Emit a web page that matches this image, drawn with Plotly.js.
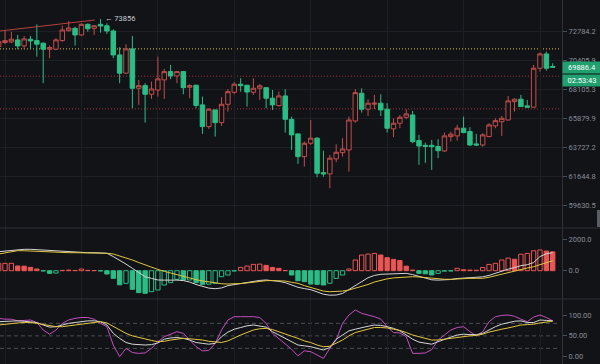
<!DOCTYPE html>
<html><head><meta charset="utf-8">
<script src="https://cdn.plot.ly/plotly-3.0.1.min.js"></script>
<style>html,body{margin:0;padding:0;background:#121317;overflow:hidden}#chart{width:600px;height:364px}</style>
</head><body><div id="chart"></div>
<script>
// ---- data ----
const openP  = [71554,71882,71939,72103,71611,72161,72046,71833,71341,71341,72046,72867,73068,72513,73401,73068,73401,73284,72842,70873,69407,71365,68217,68423,67752,68082,68876,69534,69193,69534,68296,68455,66932,65286,66548,65583,66978,67906,68534,68455,67906,68217,68265,67446,66878,67622,65835,64745,63081,64054,64426,61932,61839,62916,63368,63562,65709,67829,66602,66985,67062,66602,65116,65539,65987,66164,64247,63905,63905,63816,63490,64544,64596,65168,64915,64002,63928,64544,65338,65657,65784,67185,67369,66855,66755,69803,70955,69946];
const highP  = [72103,72867,72784,72513,72431,72431,73401,71898,71636,72243,73284,73676,73201,73485,73485,73343,73856,73485,72984,71505,71751,72431,68876,68614,68741,70734,69748,70065,69589,69589,68534,68500,67568,66678,66560,67522,68136,68692,69010,68470,69010,68558,68280,68082,67952,68136,66035,64760,64174,65784,64499,63512,63203,63979,64426,66035,68136,68213,67369,67699,67752,67062,65911,66164,66602,66471,64670,64098,64298,64350,64841,64915,65412,66035,65242,64745,64797,65539,65911,66088,67622,67430,67699,67315,70065,71062,71144,70200];
const lowP   = [71423,71775,71833,71341,71341,71341,70734,68614,70603,71283,71964,72800,71636,72431,72784,72513,72702,72595,70603,68614,69351,66678,66932,65583,67392,67568,67392,68931,68614,67752,67446,66678,64745,65116,64544,65338,66419,67752,67952,66801,67699,67315,66678,66548,66801,64841,63562,62557,62363,63928,61603,61645,60839,62679,63081,62004,65583,66341,66088,66602,66088,64841,64500,65168,65835,64054,62485,62628,62126,62966,63418,64174,64247,64797,63854,63854,63801,64500,65168,64596,65732,66418,66778,66740,66740,69534,69613,69867];
const closeP = [71964,72046,72161,71611,72185,72021,71751,71341,71472,72103,72926,73093,72513,73401,73034,73284,73259,72842,70873,69407,71365,68217,68423,67752,68160,68955,69534,69193,69534,68265,68423,66893,65286,66602,65583,66978,67952,68534,68423,67929,68217,68407,67446,66932,67622,65835,64670,63081,64054,64426,61889,61839,62966,63397,63634,65784,67875,66602,67062,67062,66548,65168,65539,65987,66241,64174,63854,63816,63801,63512,64596,64722,65168,64841,63928,63928,64670,65412,65732,65911,67238,67369,66801,66755,69803,70955,69803,69886.4];

const macdHist = [467,467,470,300,290,212,106,-20,-170,-150,20,40,15,106,20,10,-20,-212,-488,-900,-806,-1188,-1400,-1442,-1336,-1230,-912,-763,-551,-594,-590,-763,-870,-860,-806,-382,-276,-20,212,297,400,420,340,210,150,10,-275,-640,-700,-850,-870,-910,-800,-490,-275,106,680,1000,1060,1100,1000,830,720,650,290,40,-170,-200,-275,-170,-30,-20,150,60,40,30,200,400,470,680,800,730,1050,1100,1270,1320,1250,1200];
const macdDif  = [1210,1260,1310,1350,1363,1363,1340,1300,1255,1230,1205,1185,1165,1150,1147,1147,1140,1110,900,680,420,150,-120,-380,-490,-590,-600,-592,-600,-630,-720,-880,-1000,-1110,-1147,-1100,-950,-880,-800,-720,-660,-620,-592,-620,-680,-760,-900,-1057,-1140,-1210,-1350,-1500,-1560,-1550,-1450,-1200,-930,-700,-450,-300,-230,-215,-210,-190,-170,-250,-370,-480,-580,-600,-595,-560,-500,-470,-450,-420,-390,-300,-160,-30,100,200,320,380,520,900,1080,1150];
const macdDea  = [1064,1150,1230,1274,1270,1250,1220,1200,1180,1165,1150,1147,1147,1147,1147,1147,1140,1110,1064,950,820,682,520,360,200,80,-40,-150,-260,-380,-470,-570,-650,-720,-790,-830,-848,-845,-820,-780,-720,-670,-637,-630,-635,-660,-740,-805,-950,-1080,-1200,-1300,-1340,-1340,-1300,-1230,-1120,-1000,-880,-720,-600,-520,-460,-423,-400,-382,-400,-440,-487,-520,-545,-550,-520,-490,-487,-487,-487,-420,-320,-220,-90,0,80,170,255,380,500,637];

const kLine = [84,85,86,86,85,84,82,76,71,72,76,80,82,84,86,86,84,76,56,44,34,30,29,28,29,33,42,45,46,44,40,34,32,30,32,48,59,66,70,74,76,74,71,60,52,44,35,28,26,24,20,16,22,42,52,62,66,70,73,76,75,72,68,62,52,42,35,32,30,36,42,47,52,54,53,53,56,65,72,78,82,85,86,82,82,88,87,86];
const dLine = [76,78,80,81,82,82,80,77,74,72,72,74,76,78,80,82,84,81,72,64,56,50,46,42,39,36,37,40,42,44,43,42,40,37,35,34,38,46,52,58,64,67,68,65,60,55,50,44,38,34,28,24,25,32,40,50,58,62,66,70,70,69,66,63,58,52,48,44,40,40,42,44,47,49,50,51,54,59,63,66,69,73,76,77,78,81,83,85];
const jLine = [92,90,90,86,87,88,82,64,54,64,80,88,92,94,94,90,80,72,28,0,20,10,8,9,20,36,48,54,60,56,40,24,14,15,32,64,88,96,96,96,96,94,80,56,44,30,18,2,14,12,4,-4,20,40,80,100,112,104,100,96,90,72,58,57,48,8,8,9,17,40,52,64,70,72,60,50,60,84,96,99,100,97,90,84,95,100,94,86];

const priceTicks = [59630.5, 61644.8, 63727.2, 65879.9, 68105.3, 70405.9, 72784.2];
const macdTicks = [0, 2000];
const kdjTicks = [0, 50, 100];
const kdjLevels = [20, 50, 80];
const keyLevels = [71365, 69169, 66625];
const trendX = [0.2, 15.1];
const trendY = [72842, 73763];
const lastPrice = 69886.4;
const countdown = '02:53:43';
const gridIdx = [1, 13, 25, 37, 49, 61, 73, 85];

// ---- styling ----
const bg = '#121317';
const gridC = '#1d1f24';
const upC = '#c24e4b';
const dnC = '#2bbd86';
const histUp = '#ea5654';
const histDn = '#2bbd86';
const idx = openP.map((_, i) => i);

const histFill = macdHist.map((v, i) => {
  const rising = i === 0 || v >= macdHist[i - 1];
  const c = v >= 0 ? histUp : histDn;
  return rising ? bg : c;
});
const histLine = macdHist.map(v => v >= 0 ? histUp : histDn);

let maxI = 0;
highP.forEach((v, i) => { if (v > highP[maxI]) maxI = i; });

const traces = [
  {type: 'candlestick', x: idx, open: openP, high: highP, low: lowP, close: closeP,
   xaxis: 'x', yaxis: 'y', whiskerwidth: 0, hoverinfo: 'none',
   increasing: {line: {color: upC, width: 1}, fillcolor: bg},
   decreasing: {line: {color: dnC, width: 1}, fillcolor: dnC}},
  {type: 'scatter', mode: 'lines', x: trendX, y: trendY, xaxis: 'x', yaxis: 'y',
   line: {color: '#b9403f', width: 1}, hoverinfo: 'none'},
  {type: 'bar', x: idx, y: macdHist, xaxis: 'x', yaxis: 'y2', width: 0.68,
   marker: {color: histFill, line: {color: histLine, width: 1}}, hoverinfo: 'none'},
  {type: 'scatter', mode: 'lines', x: idx, y: macdDif, xaxis: 'x', yaxis: 'y2',
   line: {color: '#d6d6d6', width: 1}, hoverinfo: 'none'},
  {type: 'scatter', mode: 'lines', x: idx, y: macdDea, xaxis: 'x', yaxis: 'y2',
   line: {color: '#e2c640', width: 1}, hoverinfo: 'none'},
  {type: 'scatter', mode: 'lines', x: idx, y: jLine, xaxis: 'x', yaxis: 'y3',
   line: {color: '#c24fbf', width: 1}, hoverinfo: 'none'},
  {type: 'scatter', mode: 'lines', x: idx, y: kLine, xaxis: 'x', yaxis: 'y3',
   line: {color: '#d6d6d6', width: 1}, hoverinfo: 'none'},
  {type: 'scatter', mode: 'lines', x: idx, y: dLine, xaxis: 'x', yaxis: 'y3',
   line: {color: '#e2c640', width: 1}, hoverinfo: 'none'}
];

const shapes = [];
const levelColors = ['#d9c24a', '#a8353a', '#a8353a'];
keyLevels.forEach((v, i) => shapes.push({type: 'line', xref: 'paper', x0: 0, x1: 0.997, yref: 'y', y0: v, y1: v,
  line: {color: levelColors[i], width: 1, dash: '1px,2px'}, layer: 'below'}));
kdjLevels.forEach(v => shapes.push({type: 'line', xref: 'paper', x0: 0, x1: 0.992, yref: 'y3', y0: v, y1: v,
  line: {color: '#4b4e54', width: 1, dash: '4px,3px'}, layer: 'below'}));
[1 - 228 / 364, 1 - 299 / 364].forEach(p => shapes.push({type: 'line', xref: 'paper', x0: 0, x1: 1.07, yref: 'paper', y0: p, y1: p,
  line: {color: '#2e3137', width: 1}}));
shapes.push({type: 'rect', xref: 'paper', x0: 597 / 562, x1: 600 / 562, yref: 'paper', y0: 1 - 227 / 364, y1: 1 - 210 / 364,
  line: {width: 0}, fillcolor: '#5a5d63'});

const axFont = {family: 'Roboto, sans-serif', size: 7.5, color: '#878c95'};
const yCommon = {side: 'right', anchor: 'x', ticks: 'outside', ticklen: 4, tickcolor: '#4a4d53',
  showline: true, linecolor: '#2e3137', zeroline: false, tickfont: axFont, fixedrange: true, automargin: false};

const layout = {
  width: 600, height: 364,
  paper_bgcolor: bg, plot_bgcolor: bg,
  margin: {l: 0, r: 38, t: 0, b: 0, pad: 0},
  showlegend: false, boxgap: 0.3, boxgroupgap: 0, bargap: 0,
  font: {family: 'Roboto, sans-serif', size: 7.5, color: '#878c95'},
  xaxis: {range: [0.215, 88.455], tickvals: gridIdx, showticklabels: false, ticks: '', showgrid: true,
    gridcolor: gridC, zeroline: false, showline: false, rangeslider: {visible: false}, fixedrange: true},
  yaxis: Object.assign({}, yCommon, {domain: [1 - 228 / 364, 1], type: 'log', range: [4.76438, 4.87781],
    tickvals: priceTicks, ticktext: priceTicks.map(v => v.toFixed(1)), showgrid: true, gridcolor: gridC}),
  yaxis2: Object.assign({}, yCommon, {domain: [1 - 299 / 364, 1 - 228 / 364], range: [-1803, 2720],
    tickvals: macdTicks, ticktext: macdTicks.map(v => v.toFixed(1)), showgrid: false}),
  yaxis3: Object.assign({}, yCommon, {domain: [0, 1 - 299 / 364], range: [-17.5, 138.4],
    tickvals: kdjTicks, ticktext: kdjTicks.map(v => v.toFixed(2)), showgrid: false}),
  shapes: shapes,
  annotations: [
    {x: maxI, y: Math.log10(highP[maxI]), xref: 'x', yref: 'y', xanchor: 'left', yanchor: 'middle', xshift: 2,
     text: '\u2190 ' + Math.round(highP[maxI]), showarrow: false, font: {family: 'Roboto, sans-serif', size: 7.5, color: '#c9ccd1'}},
    {x: 1, xref: 'paper', y: Math.log10(lastPrice), yref: 'y', xanchor: 'left', yanchor: 'middle',
     text: lastPrice.toFixed(1), showarrow: false, bgcolor: '#21a06f', width: 36, height: 9, borderpad: 1,
     font: {family: 'Roboto, sans-serif', size: 7.5, color: '#ffffff'}},
    {x: 1, xref: 'paper', y: Math.log10(lastPrice), yref: 'y', xanchor: 'left', yanchor: 'middle', yshift: -13,
     text: countdown, showarrow: false, bgcolor: '#21a06f', width: 36, height: 9, borderpad: 1,
     font: {family: 'Roboto, sans-serif', size: 7.5, color: '#ffffff'}}
  ]
};

Plotly.newPlot('chart', traces, layout, {displayModeBar: false, staticPlot: true});
</script>
</body></html>
